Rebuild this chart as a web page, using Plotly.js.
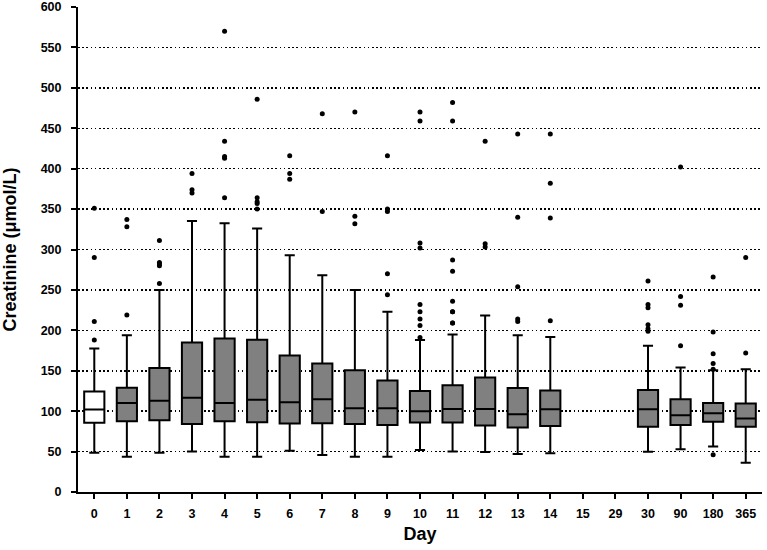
<!DOCTYPE html>
<html><head><meta charset="utf-8">
<script src="https://cdn.plot.ly/plotly-3.0.1.min.js"></script>
<style>html,body{margin:0;padding:0;background:#fff}#chart{width:767px;height:550px}</style>
</head><body><div id="chart"></div>
<script>
const allDays = ["0","1","2","3","4","5","6","7","8","9","10","11","12","13","14","15","29","30","90","180","365"];
const boxDays = ["0","1","2","3","4","5","6","7","8","9","10","11","12","13","14","30","90","180","365"];
const q1     = [85.6, 87.6, 88.9, 84, 87.6, 86.4, 84.8, 85, 84, 83, 86, 86, 82.3, 79.8, 81.5, 80.7, 83, 86.8, 80.7];
const median = [102, 110, 112.8, 116.5, 110, 114, 111, 114.8, 103.7, 103.7, 100, 102.8, 102.8, 96.3, 102.5, 102.5, 95, 97.5, 91];
const q3     = [124.3, 129, 153.5, 185, 190, 188.5, 169, 158.9, 150.6, 138, 125, 132, 141.6, 128.8, 125.5, 126.3, 114.8, 110, 109.5];
const lowerW = [48.5, 43.6, 48.5, 50, 43.6, 43.6, 51, 45.7, 43.6, 43.6, 52, 50, 49.4, 47, 48, 49.8, 53, 56.4, 36.2];
const upperW = [177.4, 194, 249.8, 335.4, 332.5, 326, 293, 268, 249.8, 223, 188, 195, 218.5, 193.8, 191.8, 181, 154, 150.6, 151.8];
const outliers = {
  "0": [351, 290, 211, 188],
  "1": [337, 328, 219],
  "2": [311, 284, 282, 280, 258],
  "3": [394, 374, 370],
  "4": [570, 434, 415, 413, 364],
  "5": [486, 364, 359, 357, 350],
  "6": [416, 394, 387],
  "7": [468, 347],
  "8": [470, 341, 332],
  "9": [416, 350, 347, 270, 244],
  "10": [470, 459, 308, 302, 232, 223, 214, 206, 191],
  "11": [482, 459, 287, 273, 236, 223, 223, 209, 209],
  "12": [434, 307, 303],
  "13": [443, 340, 254, 214, 211],
  "14": [443, 382, 339, 212],
  "30": [261, 232, 228, 207, 202, 199],
  "90": [402, 242, 231, 181],
  "180": [266, 198, 171, 159, 152, 46],
  "365": [290, 172]
};
const yTicks = [0,50,100,150,200,250,300,350,400,450,500,550,600];

function pick(arr, idx){ return idx.map(i => arr[i]); }
const whiteIdx = [0];
const grayIdx = boxDays.map((d,i)=>i).filter(i=>i!==0);

function boxTrace(idx, fill){
  return {
    type: 'box',
    x: pick(boxDays, idx),
    q1: pick(q1, idx), median: pick(median, idx), q3: pick(q3, idx),
    lowerfence: pick(lowerW, idx), upperfence: pick(upperW, idx),
    fillcolor: fill,
    line: {color: '#000', width: 2},
    whiskerwidth: 0.5,
    width: 0.62,
    boxpoints: false,
    hoverinfo: 'skip',
    showlegend: false
  };
}
const ox = [], oy = [];
boxDays.forEach(d => (outliers[d]||[]).forEach(v => { ox.push(d); oy.push(v); }));

const traces = [
  {type:'scatter', x: allDays, y: allDays.map(()=>null), mode:'markers', showlegend:false, hoverinfo:'skip'},
  boxTrace(whiteIdx, '#ffffff'),
  boxTrace(grayIdx, '#808080'),
  {type:'scatter', mode:'markers', x: ox, y: oy, marker:{color:'#000', size:5}, showlegend:false, hoverinfo:'skip'}
];

const fam = 'Liberation Sans, Arial, sans-serif';
const tickFont = {family: fam, color: '#000', size: 12.5, weight: 'bold'};
const titleFont = {family: fam, color: '#000', size: 18, weight: 'bold'};
const layout = {
  width: 767, height: 550,
  margin: {l: 78, r: 5, t: 7, b: 58},
  paper_bgcolor: '#fff', plot_bgcolor: '#fff',
  boxmode: 'overlay',
  font: tickFont,
  xaxis: {
    type: 'category', categoryorder: 'array', categoryarray: allDays,
    range: [-0.5, 20.5],
    showgrid: false, zeroline: false,
    showline: true, linecolor: '#000', linewidth: 2,
    ticks: 'outside', ticklen: 5, tickwidth: 2, tickcolor: '#000',
    ticklabelstandoff: 4,
    tickfont: tickFont,
    title: {text: 'Day', font: titleFont, standoff: 7}
  },
  yaxis: {
    range: [0, 600], tickvals: yTicks, ticktext: yTicks.map(String),
    showgrid: true, gridcolor: '#000', gridwidth: 1.5, griddash: '1.5px,2.7px',
    zeroline: false,
    showline: true, linecolor: '#000', linewidth: 2,
    ticks: 'outside', ticklen: 5, tickwidth: 2, tickcolor: '#000',
    ticklabelstandoff: 7,
    tickfont: tickFont,
    title: {text: 'Creatinine (μmol/L)', font: titleFont, standoff: 20}
  }
};
Plotly.newPlot('chart', traces, layout, {staticPlot: true, displayModeBar: false});
</script>
</body></html>
